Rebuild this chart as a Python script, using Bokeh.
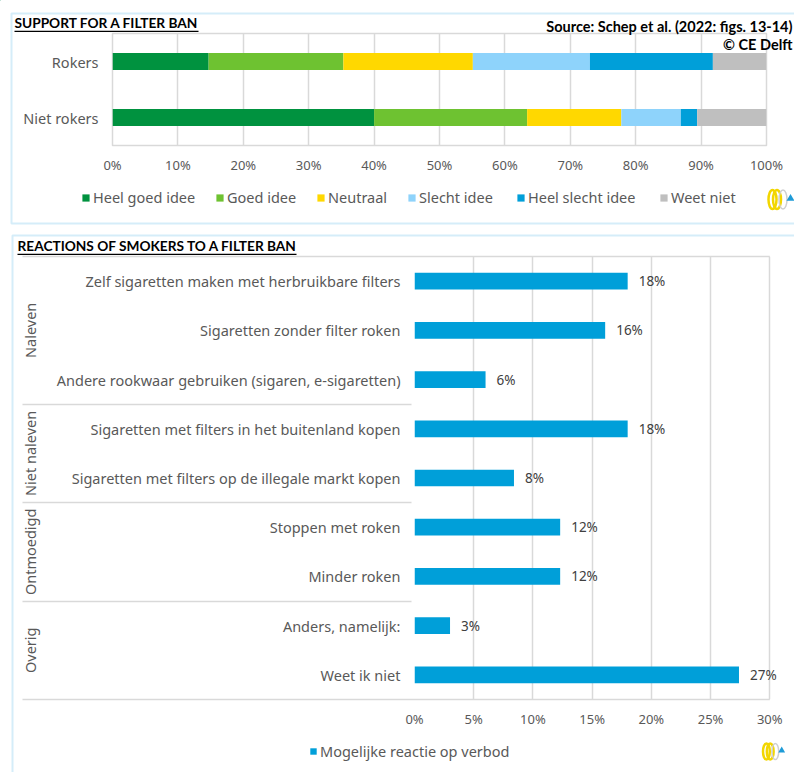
from bokeh.plotting import figure
from bokeh.models import (ColumnDataSource, FactorRange, Range1d, FixedTicker,
                          PrintfTickFormatter, Legend, LegendItem, Label, BoxAnnotation)
from bokeh.embed import file_html
from bokeh.resources import INLINE
from bokeh.core.properties import value

# ---------------- data ----------------
groups = ["Rokers", "Niet rokers"]
answers = ["Heel goed idee", "Goed idee", "Neutraal", "Slecht idee", "Heel slecht idee", "Weet niet"]
rokers = [14.7, 20.6, 19.8, 17.9, 18.8, 8.2]
niet_rokers = [40.0, 23.4, 14.4, 9.1, 2.5, 10.6]
answer_colors = ["#00923F", "#6EC231", "#FFD800", "#8ED3FB", "#009FD9", "#BFBFBF"]
support_ticks = [0, 10, 20, 30, 40, 50, 60, 70, 80, 90, 100]

reaction_groups = ["Naleven", "Naleven", "Naleven", "Niet naleven", "Niet naleven",
                   "Ontmoedigd", "Ontmoedigd", "Overig", "Overig"]
reactions = ["Zelf sigaretten maken met herbruikbare filters",
             "Sigaretten zonder filter roken",
             "Andere rookwaar gebruiken (sigaren, e-sigaretten)",
             "Sigaretten met filters in het buitenland kopen",
             "Sigaretten met filters op de illegale markt kopen",
             "Stoppen met roken",
             "Minder roken",
             "Anders, namelijk:",
             "Weet ik niet"]
shares = [18.0, 16.1, 6.0, 18.0, 8.4, 12.3, 12.3, 3.0, 27.4]
reaction_ticks = [0, 5, 10, 15, 20, 25, 30]
series_name = "Mogelijke reactie op verbod"
bar_color = "#009FD9"

title_top = "SUPPORT FOR A FILTER BAN"
title_bottom = "REACTIONS OF SMOKERS TO A FILTER BAN"
source_text = "Source: Schep et al. (2022: figs. 13-14)"
copyright_text = "© CE Delft"

FONT = "Noto Sans"
TITLE_FONT = "Lato"
TXT = "#595959"
GRID = "#D9D9D9"
FRAME_BLUE = "#74C5EA"


def style_axis(ax, size, standoff):
    ax.axis_line_color = None
    ax.major_tick_line_color = None
    ax.minor_tick_line_color = None
    ax.major_tick_out = 0
    ax.major_tick_in = 0
    ax.minor_tick_out = 0
    ax.major_label_text_font = FONT
    ax.major_label_text_color = TXT
    ax.major_label_text_font_size = size
    ax.major_label_standoff = standoff


# ---------------- top chart ----------------
p1 = figure(width=794, height=228, output_backend="svg", toolbar_location=None,
            y_range=FactorRange(factors=groups[::-1], range_padding=0),
            x_range=Range1d(0, 100),
            min_border_left=112, min_border_right=28, min_border_top=33, min_border_bottom=83)
p1.outline_line_color = GRID
p1.outline_line_width = 1.5

data1 = {"y": groups}
for i, a in enumerate(answers):
    data1[a] = [rokers[i], niet_rokers[i]]
src1 = ColumnDataSource(data1)
p1.hbar_stack(answers, y="y", height=0.3, color=answer_colors, line_color=None, source=src1)

p1.xaxis.ticker = FixedTicker(ticks=support_ticks)
p1.xaxis.formatter = PrintfTickFormatter(format="%d%%")
style_axis(p1.xaxis[0], "13px", 10)
style_axis(p1.yaxis[0], "14.5px", 14)
p1.xgrid.grid_line_color = GRID
p1.xgrid.grid_line_width = 1.5
p1.ygrid.grid_line_color = None

# ---------------- bottom chart ----------------
# frame runs a little past 30% so the "27%" label is not cut; the 30% grid line closes the plot area
factors = list(zip(reaction_groups, reactions))
p2 = figure(width=794, height=544, output_backend="svg", toolbar_location=None,
            y_range=FactorRange(factors=factors[::-1], range_padding=0,
                                group_padding=0, factor_padding=0),
            x_range=Range1d(0, 31.75),
            min_border_left=414, min_border_right=4, min_border_top=28, min_border_bottom=73)
p2.outline_line_color = None

labels = [f"{round(v)}%" for v in shares]
src2 = ColumnDataSource(dict(y=factors, share=shares, label=labels))
p2.hbar(y="y", right="share", left=0, height=0.34, color=bar_color, line_color=None, source=src2)
p2.text(x="share", y="y", text="label", source=src2, x_offset=11, text_baseline="middle",
        text_font=value(FONT), text_font_size="13.5px", text_color="#404040")

p2.xaxis.ticker = FixedTicker(ticks=reaction_ticks)
p2.xaxis.formatter = PrintfTickFormatter(format="%d%%")
style_axis(p2.xaxis[0], "13px", 10)
ya = p2.yaxis[0]
style_axis(ya, "14.5px", 14)
ya.group_text_font = FONT
ya.group_text_color = TXT
ya.group_text_font_size = "14.5px"
ya.group_text_font_style = "normal"
ya.group_label_orientation = "vertical"
ya.separator_line_color = GRID
ya.separator_line_width = 1.5

p2.xgrid.grid_line_color = GRID
p2.xgrid.grid_line_width = 1.5
p2.ygrid.grid_line_color = None

# ---------------- overlay with panel frames, titles and legends ----------------
ov = figure(width=794, height=772, output_backend="svg", toolbar_location=None,
            x_range=Range1d(0, 794), y_range=Range1d(772, 0), min_border=0,
            x_axis_location=None, y_axis_location=None)
ov.grid.visible = False
ov.outline_line_color = None
ov.background_fill_alpha = 0
ov.border_fill_alpha = 0
ov.styles = {"position": "absolute", "top": "0px", "left": "0px", "z-index": "10",
             "pointer-events": "none"}

# panel frames
ov.add_layout(BoxAnnotation(left=11, right=830, top=13, bottom=223, fill_alpha=0,
                            line_color=FRAME_BLUE, line_width=2))
ov.add_layout(BoxAnnotation(left=12, right=830, top=235, bottom=830, fill_alpha=0,
                            line_color=FRAME_BLUE, line_width=2))
# horizontal lines closing the bottom chart's plot area and category axis
ov.segment(x0=[22, 22], y0=[256, 699], x1=[769.3, 769.3], y1=[256, 699],
           line_color=GRID, line_width=1.5)

# titles (bold, underlined)
for txt, x, y, uend in [(title_top, 14, 22, 198), (title_bottom, 17, 245, 296)]:
    ov.add_layout(Label(x=x, y=y, text=txt, text_font=TITLE_FONT, text_font_style="bold",
                        text_font_size="13.7px", text_color="#000000", text_baseline="middle"))
    ov.add_layout(BoxAnnotation(left=x, right=uend, top=y + 8.2, bottom=y + 9.5,
                                fill_color="#000000", fill_alpha=1, line_color=None))
ov.add_layout(Label(x=792, y=25.5, text=source_text, text_font=TITLE_FONT, text_font_style="bold",
                    text_font_size="14.5px", text_color="#000000", text_baseline="middle",
                    text_align="right"))
ov.add_layout(Label(x=792, y=43.5, text=copyright_text, text_font=TITLE_FONT, text_font_style="bold",
                    text_font_size="14.5px", text_color="#000000", text_baseline="middle",
                    text_align="right"))

# legends (one per entry so each marker sits where the reference puts it);
# the legend swatches come from off-page proxy renderers
legend_x_top = [81, 215, 316, 407, 516, 659]
for name, col, lx in zip(answers, answer_colors, legend_x_top):
    proxy = ov.hbar(y=[-500], left=[-500], right=[-490], height=1, color=col, line_color=None)
    ov.add_layout(Legend(items=[LegendItem(label=name, renderers=[proxy])],
                         location=(lx, 565), padding=0, margin=0, label_standoff=3,
                         glyph_width=9, glyph_height=9, label_height=9,
                         border_line_color=None, background_fill_alpha=0,
                         label_text_font=FONT, label_text_font_size="14.5px",
                         label_text_color=TXT))
proxy2 = ov.hbar(y=[-500], left=[-500], right=[-490], height=1, color=bar_color, line_color=None)
ov.add_layout(Legend(items=[LegendItem(label=series_name, renderers=[proxy2])],
                     location=(309, 11), padding=0, margin=0, label_standoff=3,
                     glyph_width=8, glyph_height=8, label_height=9,
                     border_line_color=None, background_fill_alpha=0,
                     label_text_font=FONT, label_text_font_size="14.5px",
                     label_text_color=TXT))

# small logo marks (yellow rings, grey ring, blue triangle)
for cx, cy, s in [(778, 199, 1.0), (771, 751, 0.85)]:
    ov.ellipse(x=[cx - 6 * s, cx - 1.5 * s], y=[cy, cy], width=[8 * s, 8 * s],
               height=[19 * s, 19 * s], fill_alpha=0, line_color="#F2D600", line_width=2.5)
    ov.ellipse(x=[cx + 4.5 * s], y=[cy], width=[8 * s], height=[19 * s],
               fill_alpha=0, line_color="#CFCFCF", line_width=1.5)
    ov.scatter(x=[cx + 12 * s], y=[cy - 1], marker="triangle", size=8 * s,
               color="#1E9BD7", line_color=None)

open("out.html", "w").write(file_html([p1, p2, ov], INLINE))
